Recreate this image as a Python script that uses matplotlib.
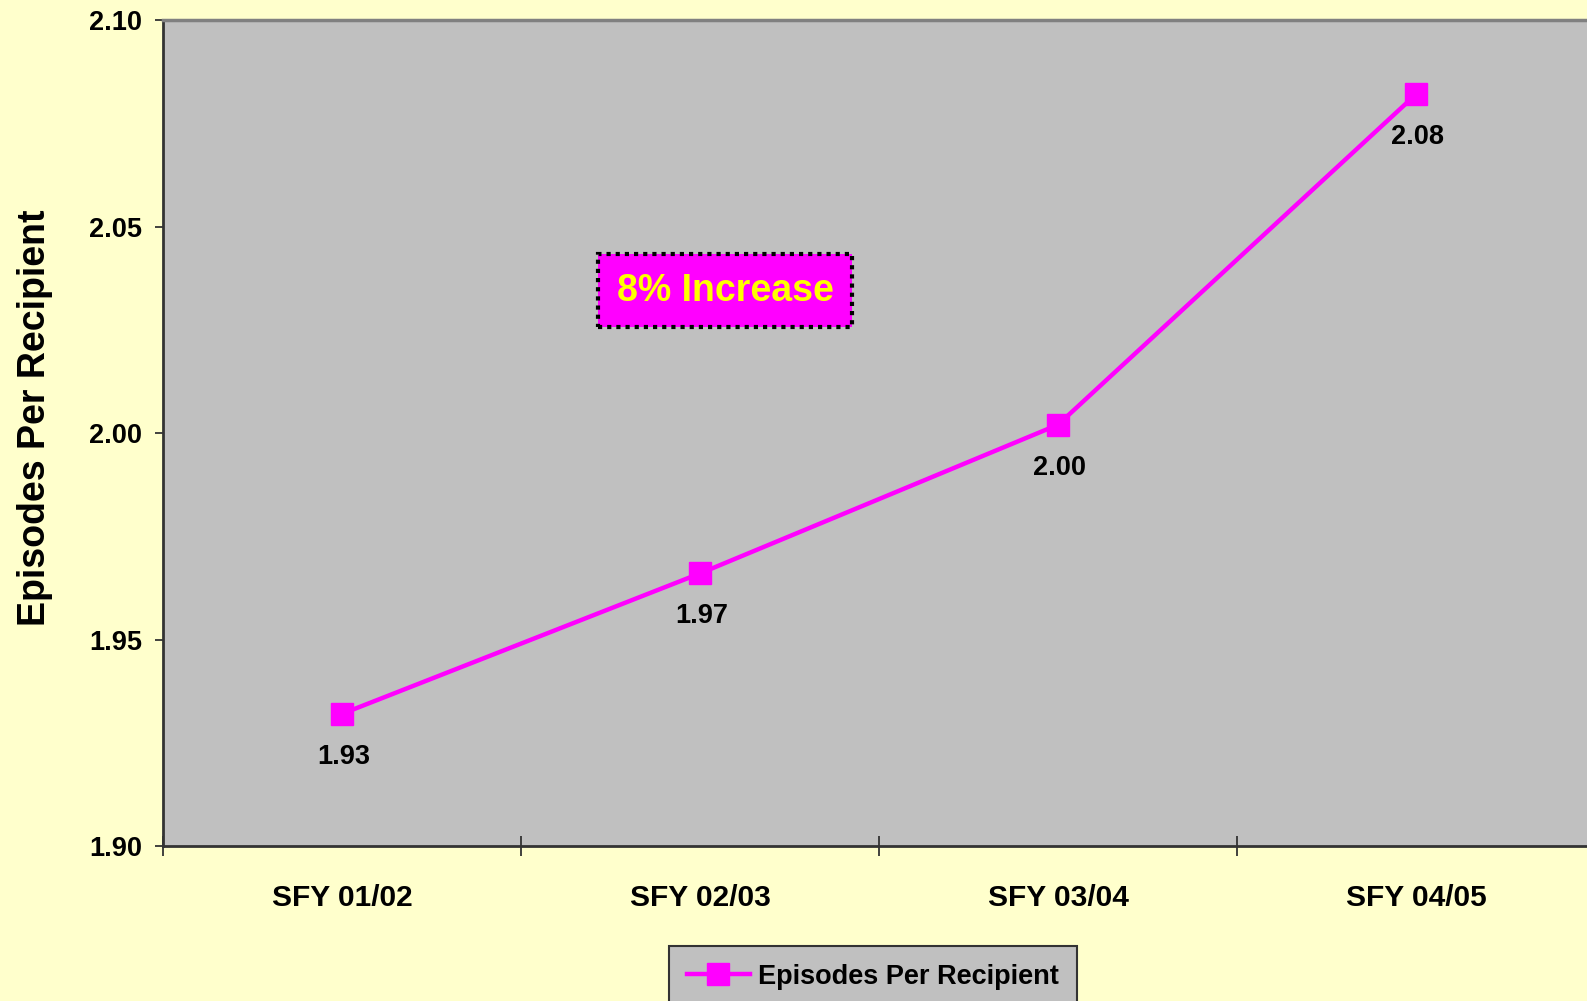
import matplotlib
matplotlib.use("Agg")
import matplotlib.pyplot as plt

plt.rcParams['font.family'] = ['Liberation Sans', 'DejaVu Sans']
plt.rcParams['font.weight'] = 'bold'

# data
years = ['SFY 01/02', 'SFY 02/03', 'SFY 03/04', 'SFY 04/05']
episodes = [1.932, 1.966, 2.002, 2.082]
point_labels = ['1.93', '1.97', '2.00', '2.08']
y_ticks = [1.90, 1.95, 2.00, 2.05, 2.10]

bg = '#FFFFCC'
plot_bg = '#C0C0C0'
magenta = '#FF00FF'

fig = plt.figure(figsize=(15.87, 10.01), dpi=100, facecolor=bg)
# right edge of plot area runs past the picture
ax = fig.add_axes([163/1587, 1 - 846/1001, (1595 - 163)/1587, (846 - 20)/1001])
ax.set_facecolor(plot_bg)

x = list(range(len(years)))
ax.plot(x, episodes, color=magenta, lw=3.2, marker='s', markersize=16,
        markeredgecolor=magenta, label='Episodes Per Recipient')

for xi, yi, lab in zip(x, episodes, point_labels):
    ax.annotate(lab, (xi, yi), xytext=(1, -31), textcoords='offset points',
                ha='center', va='center', fontsize=19.5, fontweight='bold')

ax.set_xlim(-0.5, 3.5)
ax.set_ylim(1.90, 2.10)

ax.set_yticks(y_ticks)
ax.set_yticklabels(['%.2f' % v for v in y_ticks], fontsize=19.5, fontweight='bold')
ax.tick_params(axis='y', direction='out', length=6, width=1.3, pad=9, color='#333333')

ax.set_xticks(x)
ax.set_xticklabels(years, fontsize=21.5, fontweight='bold')
ax.tick_params(axis='x', which='major', length=0, pad=27)
ax.set_xticks([-0.5, 0.5, 1.5, 2.5], minor=True)
ax.tick_params(axis='x', which='minor', direction='inout', length=15, width=1.3, color='#333333')

for s in ['left', 'bottom']:
    ax.spines[s].set_color('#333333')
    ax.spines[s].set_linewidth(2)
ax.spines['top'].set_color('#808080')
ax.spines['top'].set_linewidth(2.5)
ax.spines['right'].set_visible(False)

# callout box
ax.text(1.07, 2.0345, '8% Increase', fontsize=27, fontweight='bold', color='yellow',
        ha='center', va='center',
        bbox=dict(boxstyle='square,pad=0.5', fc=magenta, ec='black', ls=(0, (1, 1.2)), lw=3))

fig.text(35/1587, 1 - 418/1001, 'Episodes Per Recipient', rotation=90,
         ha='center', va='center', fontsize=27, fontweight='bold')

leg = fig.legend(loc='upper center', bbox_to_anchor=(873/1587, 1 - 946/1001),
                 fontsize=19.5, frameon=True, fancybox=False, framealpha=1,
                 handlelength=2.35, handletextpad=0.3, borderpad=0.65, borderaxespad=0)
leg.get_frame().set_facecolor(plot_bg)
leg.get_frame().set_edgecolor('#333333')
leg.get_frame().set_linewidth(1.5)
for t in leg.get_texts():
    t.set_fontweight('bold')

fig.savefig('out.png', dpi=100, facecolor=bg)
